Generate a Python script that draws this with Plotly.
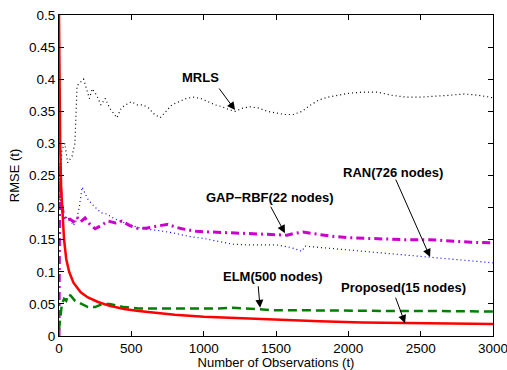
import plotly.graph_objects as go

# ---- data ----
mrls_x = [0, 20, 40, 60, 90, 110, 125, 150, 170, 190, 210, 230, 260, 290, 320, 350, 380, 400, 430, 460, 500,
          540, 580, 620, 660, 700, 740, 780, 830, 880, 930, 980, 1030, 1080, 1130, 1180, 1220, 1270, 1320,
          1380, 1440, 1500, 1560, 1620, 1680, 1740, 1800, 1860, 1920, 2000, 2100, 2200, 2300, 2400, 2500,
          2600, 2700, 2800, 2900, 3000]
mrls_y = [0.20, 0.29, 0.30, 0.27, 0.28, 0.30, 0.39, 0.395, 0.40, 0.385, 0.37, 0.385, 0.375, 0.36, 0.37, 0.355,
          0.345, 0.34, 0.355, 0.36, 0.365, 0.36, 0.36, 0.355, 0.345, 0.34, 0.35, 0.36, 0.365, 0.37, 0.372, 0.37,
          0.365, 0.36, 0.357, 0.352, 0.35, 0.355, 0.357, 0.355, 0.35, 0.347, 0.345, 0.345, 0.35, 0.36, 0.368,
          0.372, 0.375, 0.378, 0.38, 0.38, 0.375, 0.372, 0.372, 0.373, 0.375, 0.377, 0.375, 0.371]

ran_x = [0, 20, 50, 80, 100, 120, 140, 160, 180, 200, 230, 260, 290, 330, 380, 430, 500, 560, 620, 700, 800,
         900, 1000, 1100, 1200, 1300, 1400, 1500, 1600, 1650, 1680, 1700, 1800, 1900, 2000, 2100, 2200, 2300,
         2400, 2500, 2600, 2700, 2800, 2900, 3000]
ran_y = [0.25, 0.19, 0.185, 0.18, 0.172, 0.18, 0.20, 0.232, 0.222, 0.213, 0.205, 0.198, 0.192, 0.19, 0.183,
         0.178, 0.173, 0.168, 0.166, 0.164, 0.16, 0.155, 0.152, 0.147, 0.143, 0.142, 0.142, 0.142, 0.138,
         0.134, 0.132, 0.140, 0.138, 0.136, 0.134, 0.132, 0.130, 0.128, 0.126, 0.124, 0.122, 0.120, 0.118,
         0.116, 0.114]

gap_x = [0, 5, 15, 30, 50, 76, 100, 124, 150, 180, 210, 250, 290, 340, 390, 435, 490, 540, 600, 663, 710, 753,
         800, 850, 950, 1050, 1150, 1250, 1320, 1450, 1576, 1630, 1687, 1800, 1900, 2011, 2150, 2288, 2400,
         2564, 2700, 2850, 3000]
gap_y = [0.0, 0.27, 0.21, 0.19, 0.18, 0.182, 0.178, 0.185, 0.178, 0.184, 0.175, 0.167, 0.172, 0.179, 0.176,
         0.179, 0.172, 0.168, 0.168, 0.170, 0.172, 0.174, 0.170, 0.167, 0.163, 0.162, 0.161, 0.161, 0.160,
         0.158, 0.157, 0.160, 0.162, 0.158, 0.155, 0.153, 0.152, 0.151, 0.150, 0.150, 0.148, 0.146, 0.145]

elm_x = [0, 10, 20, 35, 50, 65, 80, 110, 150, 200, 250, 300, 350, 400, 450, 550, 700, 850, 1000, 1100, 1200,
         1300, 1400, 1500, 1700, 2000, 2300, 2600, 3000]
elm_y = [0.01, 0.035, 0.05, 0.058, 0.055, 0.065, 0.063, 0.055, 0.05, 0.045, 0.045, 0.05, 0.05, 0.047, 0.045,
         0.043, 0.043, 0.042, 0.042, 0.043, 0.044, 0.043, 0.041, 0.040, 0.040, 0.039, 0.039, 0.039, 0.038]

prop_x = [0, 3, 8, 15, 25, 35, 50, 70, 100, 150, 200, 270, 350, 450, 550, 663, 800, 1000, 1200, 1500, 1800,
          2100, 2400, 2700, 3000]
prop_y = [0.5, 0.4, 0.3, 0.23, 0.18, 0.15, 0.12, 0.10, 0.083, 0.068, 0.06, 0.053, 0.047, 0.042, 0.039, 0.036,
          0.033, 0.030, 0.028, 0.025, 0.023, 0.021, 0.020, 0.019, 0.0185]

x_ticks = [0, 500, 1000, 1500, 2000, 2500, 3000]
y_ticks = [0, 0.05, 0.1, 0.15, 0.2, 0.25, 0.3, 0.35, 0.4, 0.45, 0.5]
y_tick_labels = ["0", "0.05", "0.1", "0.15", "0.2", "0.25", "0.3", "0.35", "0.4", "0.45", "0.5"]

# annotation labels: (text, tip x, tip y, tail dx, tail dy, text dx, text dy)
labels = [
    ("MRLS", 1217, 0.352, -17, -23, -35, -33),
    ("GAP\u2212RBF(22 nodes)", 1562, 0.160, -15, -28, -15, -36),
    ("RAN(726 nodes)", 2565, 0.123, -35, -79, -37, -85),
    ("ELM(500 nodes)", 1390, 0.044, -2, -23, 13, -31),
    ("Proposed(15 nodes)", 2392, 0.020, -10, -27, -2, -36),
]

FONT = "Liberation Sans, Arial, Helvetica"

fig = go.Figure()
fig.add_trace(go.Scatter(x=mrls_x, y=mrls_y, mode="lines", line=dict(color="black", width=1.2, dash="1px,3px")))
fig.add_trace(go.Scatter(x=ran_x, y=ran_y, mode="lines", line=dict(color="blue", width=1.2, dash="1px,3px")))
fig.add_trace(go.Scatter(x=gap_x, y=gap_y, mode="lines",
                         line=dict(color="#cc00cc", width=3, dash="8px,4px,2px,4px")))
fig.add_trace(go.Scatter(x=elm_x, y=elm_y, mode="lines", line=dict(color="green", width=2.5, dash="9px,5px")))
fig.add_trace(go.Scatter(x=prop_x, y=prop_y, mode="lines", line=dict(color="red", width=2.5)))

for text, tx, ty, adx, ady, lx, ly in labels:
    fig.add_annotation(x=tx, y=ty, xref="x", yref="y", text="", showarrow=True,
                       ax=adx, ay=ady, arrowhead=2, arrowsize=1.6, arrowwidth=1, arrowcolor="black")
    fig.add_annotation(x=tx, y=ty, xref="x", yref="y", text="<b>%s</b>" % text, showarrow=False,
                       xshift=lx, yshift=-ly, font=dict(family=FONT, size=13, color="black"))

axis_common = dict(showgrid=False, zeroline=False, showline=True, linecolor="black", linewidth=1,
                   mirror="ticks", ticks="inside", ticklen=5, tickcolor="black", automargin=False,
                   ticklabeloverflow="allow",
                   tickfont=dict(family=FONT, size=13.5, color="black"))
fig.update_xaxes(range=[0, 3000], tickvals=x_ticks, title=dict(text="Number of Observations (t)", standoff=1,
                 font=dict(family=FONT, size=13, color="black")), **axis_common)
fig.update_yaxes(range=[0, 0.5], tickvals=y_ticks, ticktext=y_tick_labels,
                 title=dict(text="RMSE (t)", standoff=6, font=dict(family=FONT, size=13, color="black")),
                 **axis_common)
fig.update_layout(width=507, height=370, margin=dict(l=59, r=14, t=15, b=34), showlegend=False,
                  plot_bgcolor="white", paper_bgcolor="white")
fig.write_html("out.html")
